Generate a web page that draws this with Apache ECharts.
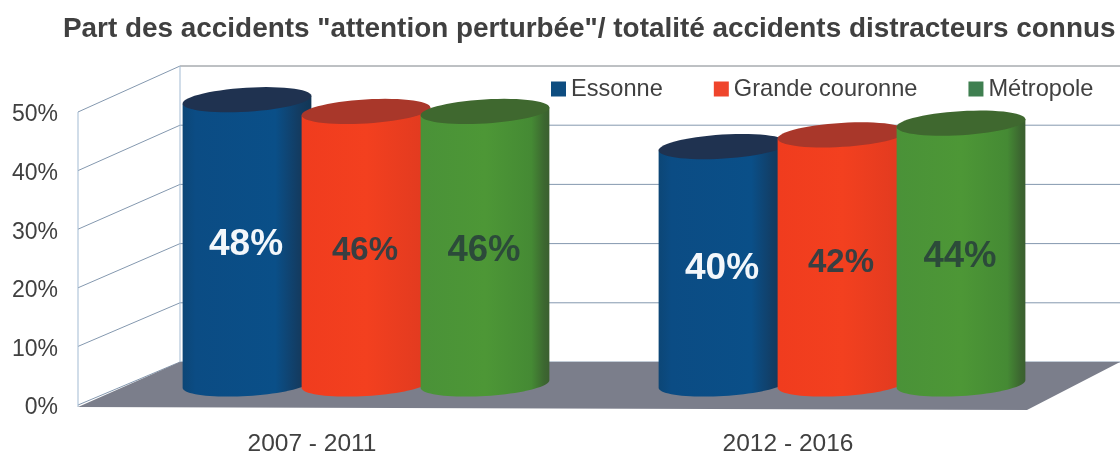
<!DOCTYPE html>
<html>
<head>
<meta charset="utf-8">
<title>Part des accidents</title>
<script src="https://cdn.jsdelivr.net/npm/echarts@6/dist/echarts.min.js"></script>
<style>
  html, body { margin: 0; padding: 0; background: #fff; }
  #chart { width: 1120px; height: 452px; }
</style>
</head>
<body>
<div id="chart"></div>
<script>
var categories = ['2007 - 2011', '2012 - 2016'];
var essonne = [48, 40];
var grandeCouronne = [46, 42];
var metropole = [46, 44];
var yTicks = [0, 10, 20, 30, 40, 50];

var myChart = echarts.init(document.getElementById('chart'));

// fake 3D: how far the back wall sits from the front of the chart
var DEPTH_X = 102;
var RX = 64.5, RY = 12, TILT = -3.5 * Math.PI / 180;

// the back wall is a bit taller than the front, so the shift grows with the value
function depthY(v) {
    return -43 - 3 * v / 50;
}

function ellipsePoint(cx, cy, t) {
    var x = RX * Math.cos(t), y = RY * Math.sin(t);
    return [cx + x * Math.cos(TILT) - y * Math.sin(TILT), cy + x * Math.sin(TILT) + y * Math.cos(TILT)];
}

function cylinder(dx, body, top, labelColor, labelSize) {
    return function (params, api) {
        var p = api.coord([api.value(0), api.value(1)]);
        var zero = api.coord([api.value(0), 0]);
        var cx = p[0] + dx, topY = p[1] - 24, baseY = zero[1] - 21;
        var side = [], cap = [], t, i;
        // left end of the cap, round the front of the base, up to the right end
        side.push(ellipsePoint(cx, topY, Math.PI));
        for (i = 0; i <= 40; i++) {
            t = Math.PI - i * Math.PI / 40;
            side.push(ellipsePoint(cx, baseY, t));
        }
        side.push(ellipsePoint(cx, topY, 0));
        for (i = 0; i <= 60; i++) {
            cap.push(ellipsePoint(cx, topY, i * 2 * Math.PI / 60));
        }
        return {
            type: 'group',
            children: [
                {
                    type: 'polygon',
                    shape: { points: side },
                    style: {
                        fill: new echarts.graphic.LinearGradient(0, 0, 1, 0, body)
                    }
                },
                { type: 'polygon', shape: { points: cap }, style: { fill: top } },
                {
                    type: 'text',
                    style: {
                        x: cx - 1,
                        y: (topY + baseY) / 2 + 3,
                        text: api.value(1) + '%',
                        fill: labelColor,
                        font: 'bold ' + labelSize + 'px "Liberation Sans", Arial, sans-serif',
                        align: 'center',
                        verticalAlign: 'middle'
                    }
                }
            ]
        };
    };
}

function renderFloor(params, api) {
    var cs = params.coordSys;
    var v = api.value(1);
    var y0 = api.coord([0, v])[1];
    return {
        type: 'polygon',
        shape: {
            points: [
                [cs.x, y0 + 2],
                [cs.x + DEPTH_X, y0 + depthY(v)],
                [1120, y0 + depthY(v)],
                [cs.x + cs.width - 3, y0 + 5]
            ]
        },
        style: { fill: '#7b7e8b' }
    };
}

function renderWall(params, api) {
    var cs = params.coordSys;
    var v = api.value(1);
    var y = api.coord([0, v])[1];
    var x0 = cs.x, x1 = cs.x + DEPTH_X;
    var line = { stroke: v === 50 ? '#7d8288' : '#8498af', lineWidth: 1 };
    return {
        type: 'group',
        children: [
            { type: 'line', shape: { x1: x0, y1: y, x2: x1, y2: y + depthY(v) }, style: { stroke: '#8498af', lineWidth: 1 } },
            { type: 'line', shape: { x1: x1, y1: y + depthY(v), x2: 1120, y2: y + depthY(v) }, style: line }
        ]
    };
}

function renderUprights(params, api) {
    var cs = params.coordSys;
    var line = { stroke: '#a3bbd3', lineWidth: 1 };
    var v = api.value(1);
    var top = api.coord([0, v])[1];
    var zero = api.coord([0, 0])[1];
    return {
        type: 'group',
        children: [
            { type: 'line', shape: { x1: cs.x, y1: top, x2: cs.x, y2: zero + 2 }, style: line },
            { type: 'line', shape: { x1: cs.x + DEPTH_X, y1: top + depthY(v), x2: cs.x + DEPTH_X, y2: zero + depthY(0) }, style: line }
        ]
    };
}

function pairs(values) {
    return values.map(function (v, i) { return [i, v]; });
}

option = {
    animation: false,
    title: {
        text: 'Part des accidents "attention perturbée"/ totalité accidents distracteurs connus',
        left: 58,
        top: 10,
        textStyle: {
            color: '#404040',
            fontFamily: '"Liberation Sans", Arial, sans-serif',
            fontWeight: 'bold',
            fontSize: 27.9
        }
    },
    legend: {
        data: ['Essonne', 'Grande couronne', 'Métropole'],
        left: 546,
        top: 72,
        icon: 'rect',
        itemWidth: 15,
        itemHeight: 15,
        itemGap: 51,
        textStyle: {
            color: '#404040',
            fontFamily: '"Liberation Sans", Arial, sans-serif',
            fontSize: 23.6
        }
    },
    grid: { left: 78, top: 112, width: 952, height: 293, outerBoundsMode: 'none' },
    xAxis: {
        type: 'category',
        data: categories,
        axisLine: { show: false },
        axisTick: { show: false },
        axisLabel: {
            margin: 27,
            padding: [0, 8, 0, 0],
            color: '#404040',
            fontFamily: '"Liberation Sans", Arial, sans-serif',
            fontSize: 24.5
        }
    },
    yAxis: {
        type: 'value',
        min: 0,
        max: 50,
        interval: 10,
        axisLine: { show: false },
        axisTick: { show: false },
        splitLine: { show: false },
        axisLabel: {
            margin: 20,
            verticalAlign: 'top',
            lineHeight: 6,
            formatter: '{value}%',
            color: '#404040',
            fontFamily: '"Liberation Sans", Arial, sans-serif',
            fontSize: 23
        }
    },
    series: [
        { type: 'custom', name: 'walls', z: 1, silent: true, renderItem: renderWall, data: yTicks.map(function (v) { return [0, v]; }) },
        { type: 'custom', name: 'uprights', z: 1, silent: true, renderItem: renderUprights, data: [[0, yTicks[yTicks.length - 1]]] },
        { type: 'custom', name: 'floor', z: 2, silent: true, renderItem: renderFloor, data: [[0, yTicks[0]]] },
        {
            type: 'custom',
            name: 'Essonne',
            z: 3,
            itemStyle: { color: '#0e4d80' },
            renderItem: cylinder(-69, [
                { offset: 0, color: '#0c4676' },
                { offset: 0.1, color: '#0b4c84' },
                { offset: 0.72, color: '#0a4f88' },
                { offset: 0.9, color: '#133c62' },
                { offset: 1, color: '#123655' }
            ], '#1f3250', '#f3f7fb', 37),
            data: pairs(essonne)
        },
        {
            type: 'custom',
            name: 'Grande couronne',
            z: 4,
            itemStyle: { color: '#ef452c' },
            renderItem: cylinder(50, [
                { offset: 0, color: '#f03c1e' },
                { offset: 0.5, color: '#f3401f' },
                { offset: 1, color: '#e03a20' }
            ], '#a9372a', '#383f42', 33),
            data: pairs(grandeCouronne)
        },
        {
            type: 'custom',
            name: 'Métropole',
            z: 5,
            itemStyle: { color: '#3f7f50' },
            renderItem: cylinder(169, [
                { offset: 0, color: '#4a9238' },
                { offset: 0.5, color: '#4d9736' },
                { offset: 0.86, color: '#458a34' },
                { offset: 0.96, color: '#3c6730' },
                { offset: 1, color: '#3b5f30' }
            ], '#3f682f', '#2c4a3a', 36.5),
            data: pairs(metropole)
        }
    ]
};

myChart.setOption(option, true);
</script>
</body>
</html>
